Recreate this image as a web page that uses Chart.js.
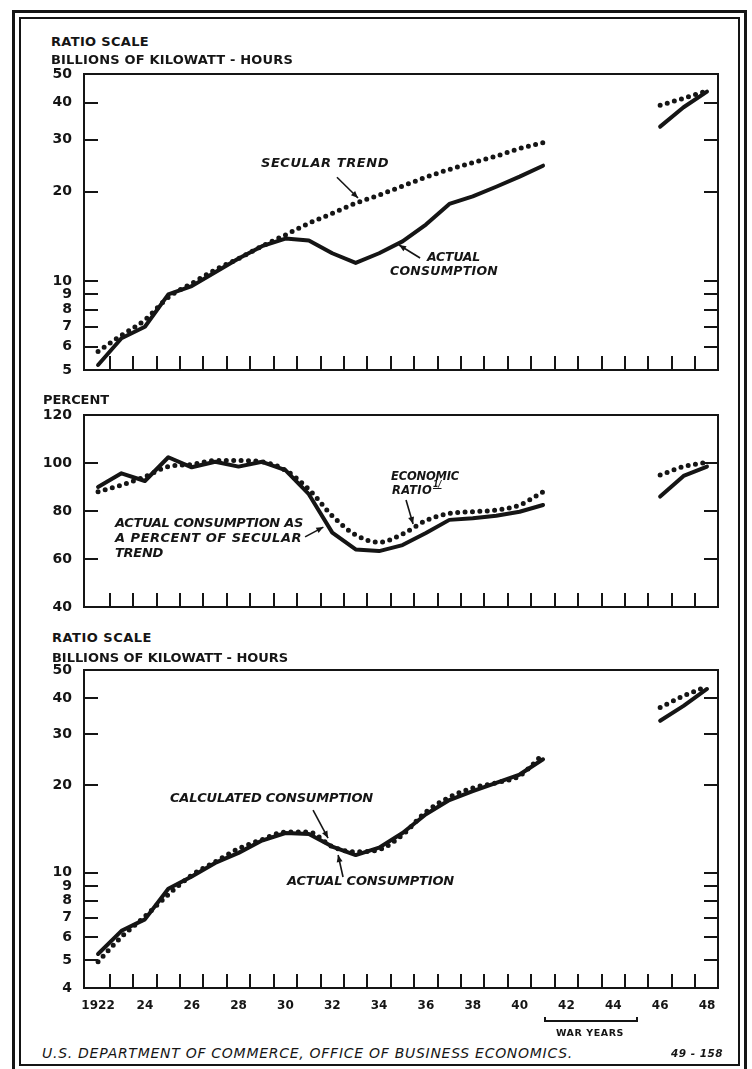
<!DOCTYPE html>
<html>
<head>
<meta charset="utf-8">
<script src="https://cdn.jsdelivr.net/npm/chart.js@4.4.0/dist/chart.umd.min.js"></script>
<style>
html,body{margin:0;padding:0;background:#fff;}
#page{position:relative;width:752px;height:1069px;overflow:hidden;background:#fff;}
.frameO{position:absolute;left:12px;top:10px;width:735px;height:1070px;border:3px solid #151515;box-sizing:border-box;}
.frameI{position:absolute;left:19px;top:17px;width:721px;height:1049px;border:2px solid #151515;box-sizing:border-box;}
.t{position:absolute;font-family:"DejaVu Sans",sans-serif;font-weight:bold;font-size:13px;color:#151515;white-space:nowrap;line-height:1;}
.i{font-style:italic;}
canvas{position:absolute;left:0;}
.bracket{position:absolute;left:544px;top:1017px;width:94px;height:5px;border:2px solid #151515;border-top:none;box-sizing:border-box;}
</style>
</head>
<body>
<div id="page">
  <div class="frameO"></div>
  <div class="frameI"></div>

  <canvas id="c1" width="752" height="320" style="top:60px"></canvas>
  <canvas id="c2" width="752" height="220" style="top:400px"></canvas>
  <canvas id="c3" width="752" height="370" style="top:655px"></canvas>

  <div class="t" data-w="98" style="left:51px;top:35px">RATIO SCALE</div>
  <div class="t" data-w="242" style="left:51px;top:53px">BILLIONS OF KILOWATT - HOURS</div>
  <div class="t i" data-w="128" style="left:261px;top:156px">SECULAR TREND</div>
  <div class="t i" data-w="53" style="left:427px;top:251px;font-size:12.5px">ACTUAL</div>
  <div class="t i" data-w="108" style="left:390px;top:265px;font-size:12.5px">CONSUMPTION</div>

  <div class="t" data-w="66" style="left:43px;top:393px">PERCENT</div>
  <div class="t i" data-w="68" style="left:391px;top:471px;font-size:11.5px">ECONOMIC</div>
  <div class="t i" data-w="40" style="left:392px;top:485px;font-size:11.5px">RATIO</div>
  <div class="t i" style="left:433px;top:481px;font-size:8px;text-decoration:underline">1/</div>
  <div class="t i" data-w="188" style="left:115px;top:516px">ACTUAL CONSUMPTION AS</div>
  <div class="t i" data-w="187" style="left:115px;top:531px">A PERCENT OF SECULAR</div>
  <div class="t i" data-w="48" style="left:115px;top:546px">TREND</div>

  <div class="t" data-w="100" style="left:52px;top:631px">RATIO SCALE</div>
  <div class="t" data-w="236" style="left:52px;top:651px">BILLIONS OF KILOWATT - HOURS</div>
  <div class="t i" data-w="203" style="left:170px;top:791px">CALCULATED CONSUMPTION</div>
  <div class="t i" data-w="167" style="left:287px;top:874px">ACTUAL CONSUMPTION</div>

  <div class="bracket"></div>
  <div class="t" data-w="68" style="left:556px;top:1028px;font-size:9.5px">WAR YEARS</div>
  <div class="t i" data-w="531" style="left:42px;top:1046px;font-weight:normal;font-size:14px">U.S. DEPARTMENT OF COMMERCE, OFFICE OF BUSINESS ECONOMICS.</div>
  <div class="t i" data-w="52" style="left:671px;top:1048px;font-size:10.5px">49 - 158</div>
</div>

<script>
// ---------------- DATA ----------------
const years = [1922,1923,1924,1925,1926,1927,1928,1929,1930,1931,1932,1933,1934,1935,1936,1937,1938,1939,1940,1941,1942,1943,1944,1945,1946,1947,1948];

// Top panel: billions of kWh (ratio scale)
const p1Actual = [5.2,6.4,7.0,9.0,9.6,10.7,11.9,13.1,13.9,13.7,12.4,11.5,12.4,13.6,15.5,18.2,19.3,20.8,22.5,24.5,null,null,null,null,33.2,38.6,43.6];
const p1Trend  = [5.77,6.55,7.38,8.8,9.8,10.9,11.9,13.1,14.3,15.65,16.9,18.3,19.5,20.9,22.4,23.8,25.1,26.4,28.0,29.3,null,null,null,null,39.2,41.4,43.9];

// Middle panel: percent
const p2Actual = [90,95.7,92.5,102.4,98.2,100.5,98.5,100.5,97,87,71,64,63.3,65.8,70.8,76.3,77,78,79.7,82.5,null,null,null,null,86,94.6,98.5];
const p2Ratio  = [88,90.8,94.3,98.5,99.4,101,101,100.5,97,89,78,70,67,70.4,76,79,79.7,80.4,82.5,88,null,null,null,null,95,98.5,100.3];

// Bottom panel: billions of kWh (ratio scale)
const p3Actual = [5.24,6.3,6.9,8.8,9.7,10.8,11.7,12.9,13.7,13.6,12.3,11.5,12.2,13.7,15.9,17.8,19.1,20.4,21.8,24.6,null,null,null,null,33.4,37.6,43.0];
const p3Calc   = [4.93,6.0,7.06,8.4,9.8,10.9,12.1,13.0,13.8,13.8,12.3,11.8,12.0,13.5,16.2,18.2,19.6,20.4,21.6,25.6,null,null,null,null,37.1,40.7,43.9];

// Tick labels
const xLabelYears = [1922,1924,1926,1928,1930,1932,1934,1936,1938,1940,1942,1944,1946,1948];
const p1YLabels = [5,6,7,8,9,10,20,30,40,50];
const p1YMarks  = [6,7,8,9,10,20,30,40];
const p2YLabels = [40,60,80,100,120];
const p2YMarks  = [60,80,100];
const p3YLabels = [4,5,6,7,8,9,10,20,30,40,50];
const p3YMarks  = [5,6,7,8,9,10,20,30,40];

// ---------------- LAYOUT / STYLE ----------------
const INK = '#151515';
const X_MIN = 1921.40, X_MAX = 1948.47;
const xMarks = years.slice(0, -1).map(y => y + 0.5);

Chart.defaults.font.family = '"DejaVu Sans", sans-serif';
Chart.defaults.color = INK;

// fit text widths to the reference lettering
document.querySelectorAll('.t[data-w]').forEach(el => {
  const target = parseFloat(el.dataset.w);
  const cur = el.getBoundingClientRect().width;
  const n = el.textContent.length;
  el.style.letterSpacing = ((target - cur) / n) + 'px';
});

function arrow(ctx, x1, y1, x2, y2) {
  ctx.beginPath(); ctx.moveTo(x1, y1); ctx.lineTo(x2, y2);
  ctx.lineWidth = 1.6; ctx.stroke();
  const a = Math.atan2(y2 - y1, x2 - x1), L = 7, W = 3;
  ctx.beginPath(); ctx.moveTo(x2, y2);
  ctx.lineTo(x2 - L*Math.cos(a) + W*Math.sin(a), y2 - L*Math.sin(a) - W*Math.cos(a));
  ctx.lineTo(x2 - L*Math.cos(a) - W*Math.sin(a), y2 - L*Math.sin(a) + W*Math.cos(a));
  ctx.closePath(); ctx.fill();
}

const boxTicks = {
  id: 'boxTicks',
  afterDraw(chart, args, opts) {
    const {ctx, chartArea: a, scales: {x, y}} = chart;
    ctx.save();
    ctx.strokeStyle = INK; ctx.fillStyle = INK; ctx.lineWidth = 2;
    ctx.strokeRect(a.left, a.top, a.right - a.left, a.bottom - a.top);
    const len = 14;
    ctx.beginPath();
    opts.yMarks.forEach(v => {
      const py = Math.round(y.getPixelForValue(v));
      ctx.moveTo(a.left, py); ctx.lineTo(a.left + len, py);
      ctx.moveTo(a.right, py); ctx.lineTo(a.right - len, py);
    });
    xMarks.forEach(v => {
      const px = Math.round(x.getPixelForValue(v));
      ctx.moveTo(px, a.bottom); ctx.lineTo(px, a.bottom - len);
    });
    ctx.stroke();
    (opts.arrows || []).forEach(ar => {
      arrow(ctx, x.getPixelForValue(ar[0]), y.getPixelForValue(ar[1]),
                 x.getPixelForValue(ar[2]), y.getPixelForValue(ar[3]));
    });
    ctx.restore();
  }
};

function pts(vals) { return years.map((yr, i) => ({x: yr, y: vals[i]})); }
function solid(vals) {
  return {data: pts(vals), borderColor: INK, borderWidth: 4, pointRadius: 0, tension: 0,
          spanGaps: false, fill: false, borderCapStyle: 'round', borderJoinStyle: 'round'};
}
function dotted(vals) {
  return {data: pts(vals), borderColor: INK, borderWidth: 5, pointRadius: 0,
          cubicInterpolationMode: 'monotone', spanGaps: false, fill: false,
          borderDash: [0, 7.4], borderCapStyle: 'round'};
}

function yAxis(type, min, max, labels) {
  return {
    type, min, max, position: 'left',
    grid: {display: false, drawTicks: false}, border: {display: false},
    ticks: {padding: 12, autoSkip: false, color: INK,
            font: {family: '"DejaVu Sans", sans-serif', weight: 'bold', size: 14},
            callback: v => String(v)},
    afterBuildTicks: s => { s.ticks = labels.map(v => ({value: v})); },
    afterFit: s => { s.width = 84; s.paddingTop = 0; s.paddingBottom = 0; }
  };
}
function xAxis(show) {
  const ax = {type: 'linear', min: X_MIN, max: X_MAX, display: show,
    grid: {display: false, drawTicks: false}, border: {display: false},
    afterFit: s => { s.paddingLeft = 0; s.paddingRight = 0; }};
  if (show) {
    ax.ticks = {padding: 11, autoSkip: false, maxRotation: 0, color: INK,
                font: {family: '"DejaVu Sans", sans-serif', weight: 'bold', size: 12},
                callback: v => v === 1922 ? '1922' : String(v).slice(2)};
    ax.afterBuildTicks = s => { s.ticks = xLabelYears.map(v => ({value: v})); };
    ax.afterFit = s => { s.height = 37; s.paddingLeft = 0; s.paddingRight = 0; };
  }
  return ax;
}
function baseOpts(pad, xShow, yax, plug) {
  return {
    responsive: false, animation: false, devicePixelRatio: 1, events: [],
    layout: {padding: pad, autoPadding: false},
    scales: {x: xAxis(xShow), y: yax},
    plugins: {legend: {display: false}, tooltip: {enabled: false}, boxTicks: plug}
  };
}

new Chart(document.getElementById('c1'), {
  type: 'line',
  data: {datasets: [dotted(p1Trend), solid(p1Actual)]},
  options: baseOpts({top: 14, bottom: 10, left: 0, right: 34}, false,
    yAxis('logarithmic', 5, 50, p1YLabels),
    {yMarks: p1YMarks, arrows: [[1932.20, 22.4, 1933.10, 19.06], [1935.75, 11.95, 1934.85, 13.22]]}),
  plugins: [boxTicks]
});

new Chart(document.getElementById('c2'), {
  type: 'line',
  data: {datasets: [dotted(p2Ratio), solid(p2Actual)]},
  options: baseOpts({top: 15, bottom: 13, left: 0, right: 34}, false,
    yAxis('linear', 40, 120, p2YLabels),
    {yMarks: p2YMarks, arrows: [[1935.15, 84.6, 1935.45, 74.6], [1930.84, 69.2, 1931.62, 73.3]]}),
  plugins: [boxTicks]
});

new Chart(document.getElementById('c3'), {
  type: 'line',
  data: {datasets: [dotted(p3Calc), solid(p3Actual)]},
  options: baseOpts({top: 15, bottom: 0, left: 0, right: 34}, true,
    yAxis('logarithmic', 4, 50, p3YLabels),
    {yMarks: p3YMarks, arrows: [[1931.18, 16.44, 1931.82, 13.16], [1932.46, 9.66, 1932.25, 11.5]]}),
  plugins: [boxTicks]
});
</script>
</body>
</html>
